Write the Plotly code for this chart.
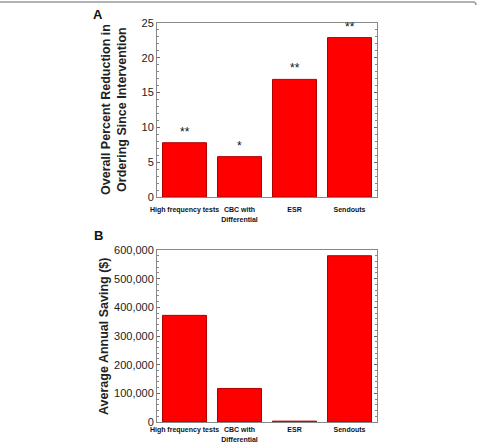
import plotly.graph_objects as go
from plotly.subplots import make_subplots

categories = ["High frequency tests", "CBC with<br>Differential", "ESR", "Sendouts"]
reduction_pct = [7.8, 5.8, 16.9, 22.9]
significance = ["**", "*", "**", "**"]
annual_saving = [372000, 117000, 3000, 580000]

W, H = 477, 442
def px_x(x): return x / W
def px_y(y): return 1 - y / H

fig = make_subplots(rows=2, cols=1)

bar_style = dict(marker=dict(color="#ff0000", line=dict(color="#b00000", width=1)), showlegend=False)
fig.add_trace(go.Bar(x=categories, y=reduction_pct, **bar_style), row=1, col=1)
fig.add_trace(go.Bar(x=categories, y=annual_saving, **bar_style), row=2, col=1)

xd = [px_x(157), px_x(377)]
common_x = dict(domain=xd, showline=True, linecolor="#888", linewidth=1, mirror=True,
                ticks="", tickfont=dict(family="Arial", size=7, color="#111", weight="bold"),
                tickangle=0, fixedrange=True, automargin=False)
common_y = dict(showline=True, linecolor="#888", linewidth=1, mirror="allticks",
                ticks="inside", ticklen=3, tickcolor="#666",
                minor=dict(ticks="inside", ticklen=2, tickcolor="#888"),
                tickfont=dict(family="Arial", size=11, color="#222"), showgrid=False,
                zeroline=False, fixedrange=True, automargin=False)

fig.update_layout(
    width=W, height=H, margin=dict(l=0, r=0, t=0, b=0, autoexpand=False),
    paper_bgcolor="white", plot_bgcolor="white", bargap=0.2,
    font=dict(family="Arial"),
    xaxis=dict(**common_x, anchor="y", ticklabelstandoff=6),
    yaxis=dict(**common_y, domain=[px_y(197), px_y(23)], range=[0, 25], dtick=5,
               minor_dtick=1),
    xaxis2=dict(**common_x, anchor="y2", ticklabelstandoff=1),
    yaxis2=dict(**common_y, domain=[px_y(422), px_y(250)], range=[0, 600000], dtick=100000,
                tickformat=",", minor_dtick=20000),
)

# significance stars
for c, v, s in zip(categories, reduction_pct, significance):
    fig.add_annotation(x=c, y=v, xref="x", yref="y", text=s, showarrow=False,
                       yanchor="bottom", yshift=2, font=dict(family="Arial", size=12, color="#111"))

ann = dict(xref="paper", yref="paper", showarrow=False, xanchor="center", yanchor="middle")
# y-axis titles
fig.add_annotation(x=px_x(114), y=px_y(110), textangle=-90,
                   text="Overall Percent Reduction in<br>Ordering Since Intervention",
                   font=dict(family="Arial", size=12.5, color="#222", weight="bold"), **ann)
fig.add_annotation(x=px_x(104), y=px_y(337), textangle=-90,
                   text="Average Annual Saving ($)",
                   font=dict(family="Arial", size=12.5, color="#222", weight="bold"), **ann)

# panel letters
fig.add_annotation(x=px_x(98), y=px_y(15), text="A",
                   font=dict(family="Arial", size=13, color="#111", weight="bold"), **ann)
fig.add_annotation(x=px_x(98), y=px_y(235), text="B",
                   font=dict(family="Arial", size=13, color="#111", weight="bold"), **ann)

# top frame line
fig.add_shape(type="line", xref="paper", yref="paper", x0=0, x1=px_x(473), y0=px_y(2), y1=px_y(2),
              line=dict(color="#999", width=1.5))
fig.add_shape(type="path", xref="paper", yref="paper",
              path=f"M {px_x(473)} {px_y(2)} Q {px_x(476)} {px_y(2)} {px_x(476)} {px_y(5)}",
              line=dict(color="#999", width=1.5))

fig.write_html("out.html")
